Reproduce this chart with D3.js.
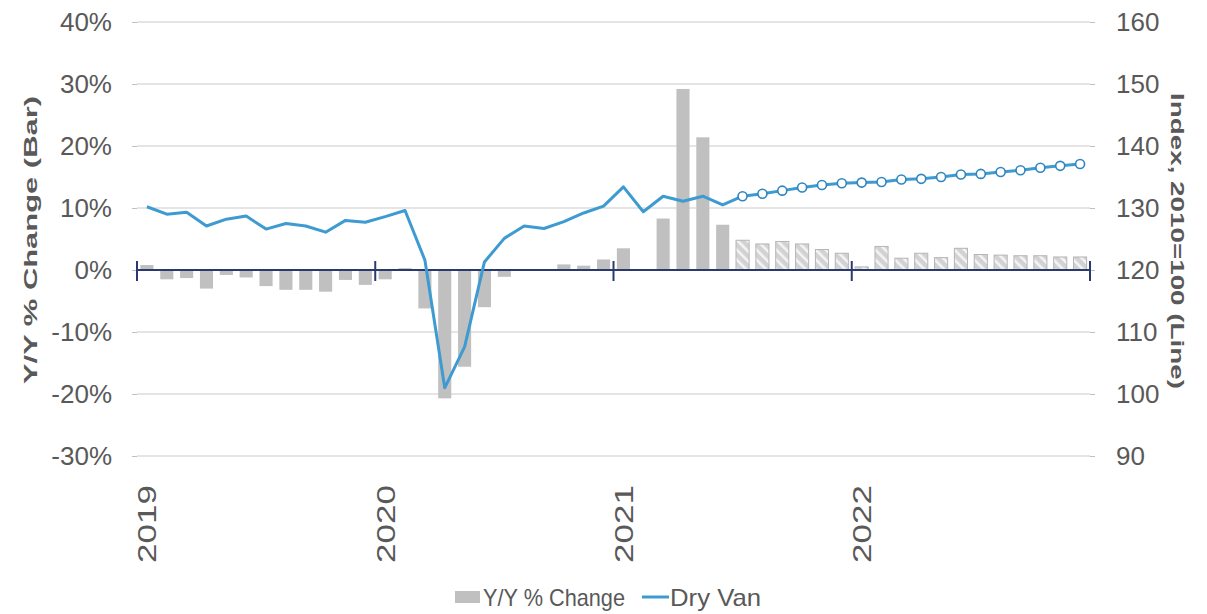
<!DOCTYPE html>
<html><head><meta charset="utf-8">
<script src="https://cdn.jsdelivr.net/npm/d3@7"></script>
<style>html,body{margin:0;padding:0;background:#fff;}svg{display:block;}</style>
</head><body>
<svg id="c" width="1207" height="614"></svg>
<script>
const years = ["2019","2020","2021","2022"];
const months = [];
years.forEach(y => { for (let m = 1; m <= 12; m++) months.push(y + "-" + String(m).padStart(2,"0")); });

// Y/Y % change (bars)
const yoyChange = [
  0.8, -1.5, -1.3, -3.0, -0.8, -1.2, -2.6, -3.2, -3.2, -3.5, -1.6, -2.4,
  -1.5, 0.3, -6.2, -20.7, -15.6, -6.0, -1.1, 0.1, 0.1, 0.9, 0.7, 1.7,
  3.5, 0.0, 8.3, 29.2, 21.4, 7.3, 4.8, 4.2, 4.6, 4.2, 3.3, 2.7,
  0.5, 3.8, 1.9, 2.7, 2.0, 3.5, 2.5, 2.4, 2.3, 2.3, 2.1, 2.1
];
// Dry Van index (line)
const dryVan = [
  130.2, 129.0, 129.3, 127.1, 128.2, 128.7, 126.6, 127.5, 127.1, 126.1, 128.0, 127.7,
  128.6, 129.6, 121.6, 101.0, 107.6, 121.3, 125.1, 127.1, 126.7, 127.8, 129.2, 130.3,
  133.4, 129.4, 131.9, 131.1, 131.9, 130.5, 131.9, 132.3, 132.8, 133.3, 133.7, 134.0,
  134.1, 134.2, 134.6, 134.7, 135.0, 135.4, 135.5, 135.8, 136.1, 136.5, 136.8, 137.1
];
const forecastStart = "2021-07";
const leftTicks = [-30, -20, -10, 0, 10, 20, 30, 40];
const rightTicks = [90, 100, 110, 120, 130, 140, 150, 160];
const legendLabels = ["Y/Y % Change", "Dry Van"];
const leftTitle = "Y/Y % Change (Bar)";
const rightTitle = "Index, 2010=100 (Line)";

const svg = d3.select("#c");
const X0 = 137, X1 = 1090, YT = 22, YB = 456;
const txt = "#595959", blue = "#3d9bd1", bar = "#c0c0c0", navy = "#2b3a6e";
const font = "'Liberation Sans', Arial, sans-serif";

const x = d3.scaleBand().domain(months).range([X0, X1]).paddingInner(0.34).paddingOuter(0.17);
const xYear = d3.scalePoint().domain(years.concat(["end"])).range([X0, X1]);
const yL = d3.scaleLinear().domain([-30, 40]).range([YB, YT]);
const yR = d3.scaleLinear().domain([90, 160]).range([YB, YT]);
const fIdx = months.indexOf(forecastStart);

// pattern for forecast bars
const defs = svg.append("defs");
const pat = defs.append("pattern").attr("id", "hatch").attr("patternUnits", "userSpaceOnUse")
  .attr("width", 7).attr("height", 7).attr("patternTransform", "rotate(-45)");
pat.append("rect").attr("width", 7).attr("height", 7).attr("fill", "#d2d2d2");
pat.append("rect").attr("x", 0).attr("width", 2.6).attr("height", 7).attr("fill", "#f4f4f4");

// gridlines
svg.append("g").selectAll("line").data(leftTicks.filter(d => d !== 0)).join("line")
  .attr("x1", X0).attr("x2", X1).attr("y1", d => yL(d)).attr("y2", d => yL(d))
  .attr("stroke", "#dcdcdc").attr("stroke-width", 1.5);

// left axis
const gL = svg.append("g").attr("transform", `translate(${X0},0)`)
  .call(d3.axisLeft(yL).tickValues(leftTicks).tickFormat(d => d + "%").tickSize(5).tickPadding(20));
gL.select(".domain").remove();
gL.selectAll(".tick line").attr("stroke", "#bfbfbf");
gL.selectAll(".tick text").attr("font-family", font).attr("font-size", 26).attr("fill", txt);

// right axis
const gR = svg.append("g").attr("transform", `translate(${X1},0)`)
  .call(d3.axisRight(yR).tickValues(rightTicks).tickSize(5).tickPadding(21));
gR.select(".domain").remove();
gR.selectAll(".tick line").attr("stroke", "#bfbfbf");
gR.selectAll(".tick text").attr("font-family", font).attr("font-size", 26).attr("fill", txt);

// bars
svg.append("g").selectAll("rect").data(months).join("rect")
  .attr("x", d => x(d)).attr("width", x.bandwidth())
  .attr("y", (d, i) => yL(Math.max(0, yoyChange[i])))
  .attr("height", (d, i) => Math.abs(yL(yoyChange[i]) - yL(0)))
  .attr("fill", (d, i) => i >= fIdx ? "url(#hatch)" : bar)
  .attr("stroke", (d, i) => i >= fIdx ? "#b5b5b5" : "none")
  .attr("stroke-width", 1);

// zero axis line with year ticks
svg.append("line").attr("x1", X0).attr("x2", X1).attr("y1", yL(0)).attr("y2", yL(0))
  .attr("stroke", navy).attr("stroke-width", 2);
svg.append("g").selectAll("line").data(xYear.domain()).join("line")
  .attr("x1", d => xYear(d)).attr("x2", d => xYear(d))
  .attr("y1", yL(0) - 9).attr("y2", yL(0) + 11)
  .attr("stroke", navy).attr("stroke-width", 2);

// line
const line = d3.line().x(d => x(d.m) + x.bandwidth() / 2).y(d => yR(d.v));
const pts = months.map((m, i) => ({ m, v: dryVan[i], i }));
svg.append("path").datum(pts).attr("d", line).attr("fill", "none")
  .attr("stroke", blue).attr("stroke-width", 3).attr("stroke-linejoin", "round");
svg.append("g").selectAll("circle").data(pts.filter(p => p.i >= fIdx)).join("circle")
  .attr("cx", d => x(d.m) + x.bandwidth() / 2).attr("cy", d => yR(d.v)).attr("r", 4.5)
  .attr("fill", "#fff").attr("stroke", "#2f86bf").attr("stroke-width", 1.6);

// year labels
svg.append("g").selectAll("text").data(years).join("text")
  .attr("transform", d => `translate(${x(d + "-01") + x.bandwidth() / 2 + 9.5},485) rotate(-90)`)
  .attr("text-anchor", "end").attr("font-family", font).attr("font-size", 26).attr("fill", txt)
  .attr("textLength", 78).attr("lengthAdjust", "spacingAndGlyphs")
  .text(d => d);

// axis titles
svg.append("text").attr("transform", "translate(37,240) rotate(-90)")
  .attr("text-anchor", "middle").attr("font-family", font).attr("font-weight", "bold")
  .attr("font-size", 18).attr("fill", txt)
  .attr("textLength", 288).attr("lengthAdjust", "spacingAndGlyphs").text(leftTitle);
svg.append("text").attr("transform", "translate(1171,241) rotate(90)")
  .attr("text-anchor", "middle").attr("font-family", font).attr("font-weight", "bold")
  .attr("font-size", 18).attr("fill", txt)
  .attr("textLength", 296).attr("lengthAdjust", "spacingAndGlyphs").text(rightTitle);

// legend
const lg = svg.append("g");
lg.append("rect").attr("x", 455).attr("y", 591).attr("width", 25).attr("height", 12).attr("fill", bar);
lg.append("text").attr("x", 483).attr("y", 606).attr("font-family", font).attr("font-size", 24)
  .attr("fill", txt).attr("textLength", 142).attr("lengthAdjust", "spacingAndGlyphs").text(legendLabels[0]);
lg.append("line").attr("x1", 642).attr("x2", 669).attr("y1", 597).attr("y2", 597)
  .attr("stroke", blue).attr("stroke-width", 3);
lg.append("text").attr("x", 670).attr("y", 606).attr("font-family", font).attr("font-size", 24)
  .attr("fill", txt).attr("textLength", 91).attr("lengthAdjust", "spacingAndGlyphs").text(legendLabels[1]);
</script>
</body></html>
